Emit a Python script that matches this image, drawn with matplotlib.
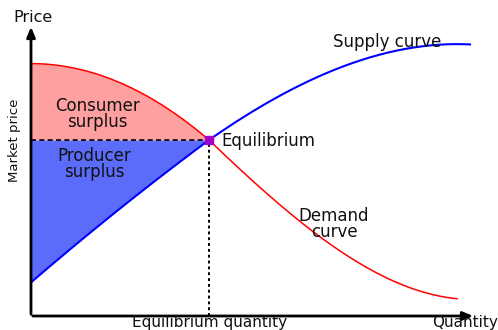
import numpy as np
import matplotlib.pyplot as plt

# quantity / price points along each curve
supply_q = [0, 27, 61, 94, 127, 154, 178, 202, 236, 269, 302, 336, 369, 402, 439]
supply_p = [33, 58, 84, 111, 138, 158, 176, 191, 213, 231, 246, 258, 266, 270, 272]
demand_q = [0, 27, 61, 94, 127, 154, 178, 202, 236, 269, 302, 336, 369, 402, 426]
demand_p = [253, 250, 243, 231, 214, 196, 176, 154, 124, 94, 68, 48, 33, 23, 16]
eq_q, eq_p = 178, 176


def smooth(qs, ps, n=150):
    # separate least-squares fits on each side of the equilibrium point
    qs, ps = np.asarray(qs, float), np.asarray(ps, float)
    w = np.where(qs == eq_q, 20.0, 1.0)
    left = qs <= eq_q
    right = qs >= eq_q
    ql = np.linspace(qs[0], eq_q, n)
    qr = np.linspace(eq_q, qs[-1], n)
    pl = np.polyval(np.polyfit(qs[left], ps[left], 2, w=w[left]), ql)
    pr = np.polyval(np.polyfit(qs[right], ps[right], 3, w=w[right]), qr)
    return np.concatenate([ql, qr[1:]]), np.concatenate([pl, pr[1:]])


fig = plt.figure(figsize=(4.98, 3.30), dpi=100)
ax = fig.add_axes([31 / 498, 14 / 330, 444 / 498, 291 / 330])
ax.set_xlim(0, 444)
ax.set_ylim(0, 291)
ax.axis("off")

sq, sp = smooth(supply_q, supply_p)
dq, dp = smooth(demand_q, demand_p)

# surplus regions
m = dq <= eq_q
ax.fill_between(dq[m], eq_p, dp[m], color="#ffa0a0", lw=0)
m = sq <= eq_q
ax.fill_between(sq[m], sp[m], eq_p, color="#5b6cfb", lw=0)

ax.plot(sq, sp, color="blue", lw=1.5)
ax.plot(dq, dp, color="red", lw=1.1)

ax.plot([0, eq_q], [eq_p, eq_p], color="black", ls=(0, (3, 2)), lw=1.2)
ax.plot([eq_q, eq_q], [0, eq_p], color="black", ls=(0, (1.5, 1.5)), lw=1.4)
ax.plot(eq_q, eq_p, "s", color="#a000c8", ms=6)

# axes with arrows
ax.annotate("", xy=(0, 292), xytext=(0, -1), annotation_clip=False,
            arrowprops=dict(arrowstyle="-|>,head_width=0.25,head_length=0.6",
                            color="black", lw=2))
ax.annotate("", xy=(445, 0), xytext=(-1, 0), annotation_clip=False,
            arrowprops=dict(arrowstyle="-|>,head_width=0.25,head_length=0.6",
                            color="black", lw=2))

fs = 12
kw = dict(fontsize=fs, color="#111111", clip_on=False)
ax.text(2, 299, "Price", ha="center", va="center", fontsize=11.5, color="#111111")
ax.text(-16, 176, "Market price", ha="center", va="center", rotation=90,
        fontsize=9.5, color="#111111")
ax.text(467, -6, "Quantity", ha="right", va="center", fontsize=11, color="#111111")
ax.text(179, -6, "Equilibrium quantity", ha="center", va="center",
        fontsize=11, color="#111111")
ax.text(356, 274, "Supply curve", ha="center", va="center", **kw)
ax.text(190, 175, "Equilibrium", ha="left", va="center", **kw)
ax.text(303, 92, "Demand\ncurve", ha="center", va="center", linespacing=0.85, **kw)
ax.text(66, 202, "Consumer\nsurplus", ha="center", va="center", linespacing=0.85, **kw)
ax.text(63, 152, "Producer\nsurplus", ha="center", va="center", linespacing=0.85, **kw)

fig.savefig("out.png", dpi=100)
